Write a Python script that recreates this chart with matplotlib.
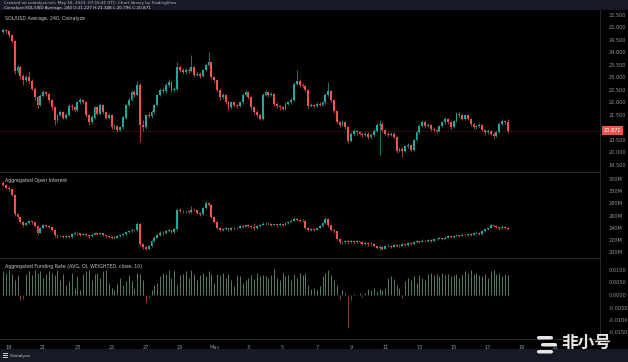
import matplotlib
matplotlib.use("Agg")
import matplotlib.pyplot as plt
import matplotlib.dates as mdates
import numpy as np
from datetime import datetime, timedelta
from matplotlib.patches import Rectangle, FancyBboxPatch

# ---------------- data (4h candles from Apr 18 16:00 UTC) ----------------
first_open = 24.80
price_close = [24.90, 24.85, 24.70, 24.45, 23.25, 23.40, 23.05, 22.90, 23.00, 22.85,
               22.55, 22.20, 21.90, 22.25, 22.40, 22.35, 22.10, 21.80, 21.30, 21.50,
               21.60, 21.40, 21.50, 21.85, 21.80, 21.70, 22.00, 22.10, 22.00, 21.50,
               21.20, 21.40, 21.80, 21.55, 21.90, 21.60, 21.40, 21.50, 21.00, 21.05,
               20.90, 21.00, 21.40, 21.90, 22.10, 22.40, 22.30, 22.70, 21.10, 21.00,
               21.50, 21.45, 21.60, 21.90, 22.30, 22.50, 22.45, 22.70, 22.80, 22.50,
               22.55, 23.40, 23.30, 23.20, 23.30, 23.25, 23.40, 23.10, 23.15, 23.05,
               23.30, 23.50, 23.60, 23.00, 22.90, 22.50, 22.20, 22.30, 22.00, 21.80,
               22.00, 21.90, 21.85, 22.00, 22.30, 22.40, 22.20, 21.80, 21.60, 21.50,
               21.35, 22.30, 22.40, 22.30, 22.35, 21.95, 21.85, 21.80, 21.75, 21.95,
               22.00, 22.10, 22.75, 22.85, 22.70, 22.65, 22.50, 21.85, 21.90, 21.85,
               21.95, 21.90, 22.00, 22.30, 22.45, 22.10, 21.65, 21.20, 21.10, 21.20,
               21.00, 20.45, 20.75, 20.85, 20.80, 20.75, 20.70, 20.75, 20.60, 20.70,
               20.85, 21.10, 21.15, 20.90, 20.75, 20.70, 20.75, 20.60, 20.05, 20.15,
               20.05, 20.25, 20.30, 20.10, 20.50, 20.80, 21.05, 21.20, 21.05, 21.10,
               20.95, 20.90, 20.85, 21.05, 21.20, 21.35, 21.20, 21.00, 21.25, 21.55,
               21.50, 21.35, 21.50, 21.35, 21.15, 21.00, 21.05, 21.10, 20.90, 20.80,
               20.85, 20.75, 20.65, 20.80, 21.15, 21.25, 21.227, 20.871]
price_high = [24.98, 24.95, 24.88, 24.75, 24.50, 23.48, 23.45, 23.12, 23.10, 23.25,
              22.92, 22.62, 22.28, 22.32, 22.48, 22.45, 22.40, 22.15, 21.85, 21.55,
              21.68, 21.65, 21.58, 21.92, 21.95, 21.86, 22.08, 22.18, 22.15, 22.05,
              21.55, 21.48, 21.88, 21.85, 21.98, 21.95, 21.65, 21.58, 21.55, 21.12,
              21.10, 21.08, 21.45, 21.95, 22.18, 22.48, 22.50, 22.85, 22.78, 21.30,
              21.55, 21.60, 21.68, 21.95, 22.35, 22.58, 22.60, 22.78, 22.95, 22.85,
              22.62, 23.60, 23.48, 23.38, 23.40, 23.36, 23.90, 23.45, 23.22, 23.20,
              23.35, 23.58, 24.00, 23.65, 23.05, 22.95, 22.55, 22.38, 22.35, 22.05,
              22.08, 22.05, 21.95, 22.08, 22.38, 22.48, 22.45, 22.25, 21.85, 21.68,
              21.55, 22.38, 22.48, 22.45, 22.42, 22.40, 22.00, 21.90, 21.85, 22.00,
              22.08, 22.18, 22.82, 23.30, 22.92, 22.78, 22.70, 22.55, 21.98, 21.95,
              22.02, 22.00, 22.08, 22.38, 22.80, 22.50, 22.15, 21.70, 21.25, 21.28,
              21.25, 21.05, 20.82, 20.92, 20.90, 20.86, 20.80, 20.82, 20.80, 20.76,
              20.92, 21.18, 21.30, 21.20, 20.95, 20.82, 20.82, 20.80, 20.65, 20.22,
              20.20, 20.30, 20.38, 20.35, 20.55, 20.88, 21.12, 21.28, 21.25, 21.18,
              21.15, 21.00, 20.95, 21.10, 21.26, 21.42, 21.40, 21.25, 21.30, 21.62,
              21.60, 21.55, 21.56, 21.55, 21.40, 21.20, 21.10, 21.16, 21.14, 20.95,
              20.92, 20.90, 20.80, 20.86, 21.20, 21.32, 21.30, 21.348]
price_low = [24.72, 24.78, 24.62, 24.40, 23.15, 23.18, 22.95, 22.70, 22.82, 22.78,
             22.48, 22.10, 21.78, 21.85, 22.20, 22.25, 22.02, 21.72, 21.10, 21.22,
             21.45, 21.32, 21.35, 21.45, 21.72, 21.62, 21.65, 21.95, 21.92, 21.42,
             21.10, 21.15, 21.35, 21.48, 21.50, 21.52, 21.32, 21.35, 20.95, 20.92,
             20.82, 20.85, 20.95, 21.35, 21.85, 22.05, 22.22, 22.25, 20.40, 20.85,
             20.95, 21.38, 21.40, 21.55, 21.85, 22.25, 22.38, 22.40, 22.62, 22.42,
             22.45, 22.50, 23.22, 23.12, 23.15, 23.18, 23.20, 23.02, 23.05, 22.98,
             23.00, 23.25, 23.45, 22.95, 22.82, 22.42, 22.10, 22.15, 21.92, 21.72,
             21.75, 21.82, 21.78, 21.80, 21.95, 22.25, 22.12, 21.72, 21.52, 21.42,
             21.28, 21.30, 22.25, 22.22, 22.25, 21.88, 21.78, 21.72, 21.68, 21.70,
             21.90, 21.95, 22.05, 22.70, 22.62, 22.58, 22.42, 21.78, 21.80, 21.78,
             21.80, 21.84, 21.86, 21.95, 22.25, 22.02, 21.58, 21.12, 21.02, 21.05,
             20.92, 20.38, 20.40, 20.70, 20.72, 20.68, 20.62, 20.65, 20.52, 20.55,
             20.65, 20.80, 19.90, 20.82, 20.68, 20.62, 20.65, 20.52, 19.98, 20.00,
             19.82, 20.00, 20.18, 20.05, 20.05, 20.45, 20.75, 21.00, 20.98, 21.00,
             20.88, 20.84, 20.78, 20.80, 21.00, 21.15, 21.12, 20.94, 20.96, 21.20,
             21.42, 21.28, 21.30, 21.28, 21.08, 20.94, 20.95, 21.00, 20.84, 20.72,
             20.74, 20.68, 20.55, 20.60, 20.76, 21.10, 21.15, 20.796]

# aggregated open interest, millions
oi_first_open = 314
oi_close = [310, 305, 303, 294, 262, 258, 250, 244, 248, 251, 249, 243, 232, 240, 244,
            243, 241, 237, 228, 226, 227, 225, 226, 225, 230, 232, 231, 229, 230, 228,
            226, 229, 231, 230, 231, 228, 226, 225, 223, 224, 226, 228, 230, 233, 234,
            237, 236, 247, 214, 208, 206, 210, 218, 224, 228, 232, 231, 234, 236, 233,
            238, 270, 268, 267, 268, 266, 270, 269, 264, 262, 272, 280, 278, 258, 250,
            240, 236, 238, 239, 237, 240, 239, 240, 243, 242, 244, 243, 241, 240, 243,
            245, 247, 246, 247, 245, 246, 244, 246, 245, 248, 250, 252, 254, 253, 251,
            252, 240, 236, 238, 237, 240, 243, 248, 254, 244, 236, 234, 222, 216, 217,
            218, 217, 218, 216, 218, 217, 214, 215, 213, 214, 210, 207, 209, 206, 210,
            211, 209, 212, 210, 211, 213, 212, 215, 214, 216, 218, 217, 219, 218, 220,
            218, 221, 222, 223, 222, 224, 226, 225, 227, 228, 227, 229, 228, 230, 229,
            231, 232, 230, 234, 238, 240, 244, 243, 241, 239, 242, 240, 238]
oi_high = [316, 312, 308, 304, 295, 264, 259, 252, 250, 253, 252, 250, 244, 241, 246,
           245, 244, 242, 238, 229, 229, 228, 228, 227, 232, 234, 233, 232, 232, 231,
           229, 231, 233, 232, 233, 232, 229, 227, 226, 226, 228, 230, 232, 235, 236,
           239, 238, 250, 248, 215, 210, 212, 220, 226, 230, 234, 234, 236, 238, 237,
           240, 273, 272, 270, 270, 269, 276, 272, 270, 266, 274, 284, 282, 279, 259,
           251, 242, 240, 241, 240, 242, 241, 242, 245, 245, 246, 246, 244, 248, 245,
           247, 249, 249, 249, 248, 248, 247, 248, 247, 250, 252, 254, 257, 256, 254,
           254, 253, 241, 240, 239, 242, 245, 250, 258, 256, 245, 238, 235, 223, 219,
           220, 220, 220, 219, 220, 219, 218, 217, 216, 216, 215, 211, 212, 210, 212,
           213, 212, 214, 213, 213, 215, 214, 217, 216, 218, 220, 219, 221, 220, 222,
           221, 223, 224, 225, 224, 226, 228, 227, 229, 230, 229, 231, 230, 232, 231,
           233, 234, 233, 236, 240, 242, 246, 245, 244, 242, 244, 243, 241]
oi_low = [309, 304, 301, 292, 260, 255, 248, 241, 243, 246, 247, 241, 229, 231, 239,
          241, 239, 235, 225, 224, 225, 223, 224, 223, 224, 229, 229, 227, 228, 226,
          224, 225, 228, 228, 229, 226, 224, 223, 221, 222, 223, 225, 227, 229, 232,
          233, 234, 235, 211, 205, 203, 205, 209, 217, 223, 227, 229, 230, 233, 231,
          232, 237, 266, 265, 265, 264, 265, 267, 262, 260, 261, 271, 275, 256, 248,
          238, 234, 235, 236, 235, 236, 237, 238, 239, 240, 241, 241, 239, 236, 238,
          242, 244, 244, 245, 243, 244, 242, 243, 243, 244, 247, 249, 251, 251, 249,
          250, 238, 234, 235, 235, 236, 239, 242, 247, 242, 234, 232, 220, 213, 214,
          215, 214, 215, 214, 215, 215, 212, 212, 211, 211, 208, 205, 204, 204, 205,
          209, 207, 208, 208, 209, 210, 210, 211, 212, 213, 215, 215, 216, 216, 217,
          216, 217, 220, 221, 220, 221, 223, 223, 224, 226, 225, 226, 226, 227, 227,
          228, 230, 228, 229, 233, 237, 239, 241, 239, 237, 238, 238, 236]

# aggregated funding rate, in units of 0.0001
funding = [95, 90, 100, 85, 60, 80, -20, -15, 85, 95, 80, 100, 90, 95, 70, 85, 95, 90,
           80, 100, 60, 85, 40, 55, 90, 30, 75, 20, 85, 95, 100, 60, 85, 90, 70, 95,
           100, 50, 30, 20, 45, 70, 40, 55, 80, 55, 30, 90, 85, 60, -30, -10, 20, 40,
           50, 75, 90, 85, 100, 70, 95, 40, 80, 85, 95, 70, 100, 85, 60, 80, 90, 75,
           95, 85, 50, 85, 80, 90, 70, 85, 60, 35, 80, 75, 50, 60, 70, 80, 65, 90, 75,
           80, 75, 70, 80, 105, 70, 60, 90, 75, 80, 60, 85, 70, 90, 80, 90, 40, 25, 30,
           20, 35, 75, 90, 100, 80, 60, 40, -15, 20, 10, -130, -20, 5, -5, 8, -8, 10,
           25, 20, 30, 15, 25, 20, 30, 70, 75, 65, 40, 30, -10, 55, 70, 60, 75, 50, 80,
           70, 60, 85, 90, 80, 85, 75, 90, 80, 85, 75, 80, 85, 70, 80, 95, 90, 100, 85,
           90, 80, 75, 85, 70, 95, 100, 85, 90, 75, 85, 80]

# 21.000 sits under the last-price tag, so it is left out
price_ticks = [19.5, 20.0, 20.5, 21.5, 22.0, 22.5, 23.0, 23.5, 24.0, 24.5, 25.0, 25.5]
oi_ticks = [200, 220, 240, 260, 280, 300, 320]
funding_ticks = [-0.015, -0.010, -0.005, 0.0, 0.005, 0.010]

# ---------------- style ----------------
W, H = 628, 362
BG = "#000000"
BAR = "#151a25"
UP = "#26a69a"
DOWN = "#ef5350"
TXT = "#9598a1"
LINE = "#2a2e39"

def box(x0, y0, x1, y1):
    # pixel box (top-left origin) -> figure fraction rect
    return [x0 / W, 1 - y1 / H, (x1 - x0) / W, (y1 - y0) / H]

times = [datetime(2023, 4, 18, 16) + timedelta(hours=4 * i) for i in range(len(price_close))]
t = mdates.date2num(times)
day0 = mdates.date2num(datetime(2023, 4, 19))
xlim = (day0 + (0 - 9) / 17.1, day0 + (600 - 9) / 17.1)

fig = plt.figure(figsize=(6.28, 3.62), dpi=100, facecolor=BG)

def candles(ax, o, h, l, c, min_body):
    o, h, l, c = map(np.asarray, (o, h, l, c))
    cols = np.where(c >= o, UP, DOWN)
    ax.vlines(t, l, h, colors=cols, linewidth=0.5)
    body = np.maximum(np.abs(c - o), min_body)
    ax.bar(t, body, bottom=np.minimum(o, c), width=0.11, color=cols, linewidth=0)

def panel(rect, ylim, ticks, fmt):
    ax = fig.add_axes(rect, facecolor=BG)
    ax.set_xlim(*xlim)
    ax.set_ylim(*ylim)
    ax.yaxis.tick_right()
    ax.set_yticks(ticks)
    ax.set_yticklabels([fmt(v) for v in ticks])
    ax.tick_params(axis="y", length=0, pad=6, labelsize=3.6, colors=TXT)
    ax.tick_params(axis="x", length=0, labelbottom=False)
    for s in ["left", "top", "bottom"]:
        ax.spines[s].set_visible(False)
    ax.spines["right"].set_color(LINE)
    ax.spines["right"].set_linewidth(0.6)
    return ax

# price
ax1 = panel(box(0, 10, 600, 171), (19.26, 25.7), price_ticks, lambda v: f"{v:.3f}")
popen = [first_open] + price_close[:-1]
candles(ax1, popen, price_high, price_low, price_close, 0.02)
last = price_close[-1]
ax1.axhline(last, color=DOWN, lw=0.5, ls=(0, (1, 2)), alpha=0.8)
ax1.annotate(f"{last:.3f}", xy=(1.0, last), xycoords=("axes fraction", "data"),
             xytext=(3, 0), textcoords="offset points", va="center", ha="left",
             fontsize=3.6, color="white",
             bbox=dict(boxstyle="square,pad=0.35", fc=DOWN, ec="none"))
ax1.text(0.008, 0.965, "SOL/USD Average, 240, Coinalyze", transform=ax1.transAxes,
         fontsize=3.4, color="#c8cad0", va="top")

# open interest
ax2 = panel(box(0, 172, 600, 257), (192.2, 331.5), oi_ticks, lambda v: f"{v}M")
oopen = [oi_first_open] + oi_close[:-1]
candles(ax2, oopen, oi_high, oi_low, oi_close, 0.4)
ax2.text(0.008, 0.93, "Aggregated Open Interest", transform=ax2.transAxes,
         fontsize=3.4, color="#c8cad0", va="top")

# funding
ax3 = panel(box(0, 258, 600, 339), (-0.0176, 0.0148), funding_ticks, lambda v: f"{v:.4f}")
f = np.array(funding) * 1e-4
ax3.vlines(t, 0, f, colors=np.where(f >= 0, "#79ad86", "#c0504d"), linewidth=0.5)
ax3.text(0.008, 0.93, "Aggregated Funding Rate (AVG, OI, WEIGHTED, close, 10)",
         transform=ax3.transAxes, fontsize=3.4, color="#c8cad0", va="top")

# date labels under the last panel
tick_days = [datetime(2023, 4, 19) + timedelta(days=2 * k) for k in range(17)]
ax3.set_xticks(mdates.date2num(tick_days))
ax3.set_xticklabels(["May" if d.day == 1 else str(d.day) for d in tick_days])
ax3.tick_params(axis="x", labelbottom=True, labelsize=3.6, colors=TXT, pad=4)
ax3.spines["bottom"].set_visible(True)
ax3.spines["bottom"].set_color(LINE)
ax3.spines["bottom"].set_linewidth(0.6)

# panel separators
for y in (171.5, 257.5):
    fig.add_artist(plt.Line2D([0, 600 / W], [1 - y / H] * 2, color=LINE, lw=0.6))

# header and footer bars
fig.patches.append(Rectangle((0, 1 - 10 / H), 1, 10 / H, transform=fig.transFigure,
                             fc=BAR, ec="none", zorder=0))
fig.text(4 / W, 1 - 3 / H, "Created on coinalyze.net, May 18, 2023, 07:16:41 UTC, Chart library by TradingView",
         fontsize=3.0, color="#b8bbc4", va="center")
fig.text(4 / W, 1 - 7.5 / H, "Coinalyze:SOL/USD Average, 240 O:21.227 H:21.348 L:20.796 C:20.871",
         fontsize=3.0, color="#e0e2e8", va="center")
fig.patches.append(Rectangle((0, 0), 1, 13 / H, transform=fig.transFigure,
                             fc=BAR, ec="none", zorder=0))
fig.text(10 / W, 6.5 / H, "Coinalyze", fontsize=3.2, color="#c8cad0", va="center")
for k in range(3):
    fig.patches.append(Rectangle((3 / W, (4 + 2 * k) / H), 5 / W, 0.8 / H,
                                 transform=fig.transFigure, fc="#c8cad0", ec="none"))

# watermark
wm = "#e6e6e6"
for k, (dx, ww) in enumerate([(537, 16), (541, 16), (537, 16)]):
    yy = 336 + 7 * k
    fig.patches.append(FancyBboxPatch((dx / W, 1 - (yy + 3.5) / H), ww / W, 3.5 / H,
                                      boxstyle="round,pad=0,rounding_size=0.004",
                                      transform=fig.transFigure, fc=wm, ec="none"))
fig.text(561 / W, 1 - 343 / H, "非小号", fontsize=12, fontweight="bold", color=wm,
         va="center", family=["Noto Sans CJK SC", "DejaVu Sans"])

fig.savefig("out.png", dpi=100, facecolor=BG)
